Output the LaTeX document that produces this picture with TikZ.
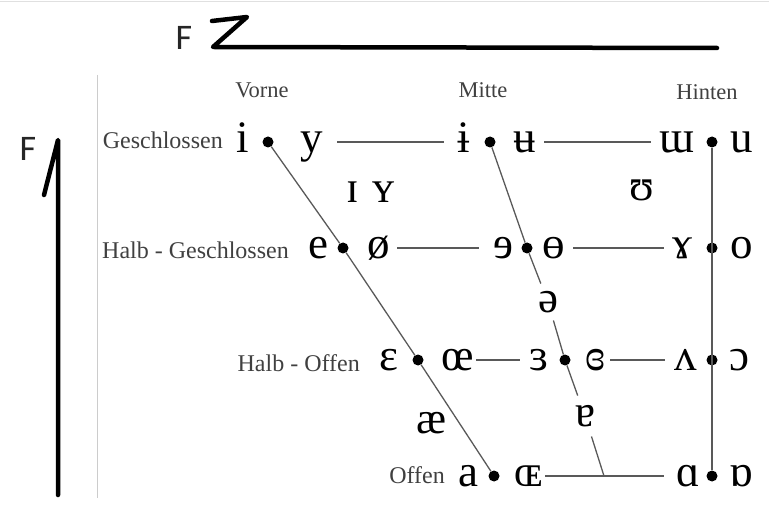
\documentclass[tikz,border=0pt]{standalone}
\usepackage{fontspec}
\setmainfont{Liberation Serif}
\newfontfamily\axisfont{Carlito}
\usetikzlibrary{positioning}
\tikzset{
  vowel/.style={font=\fontsize{45}{45}\selectfont, text height=20.5pt, text depth=0pt, inner sep=2pt},
  gapvowel/.style={vowel, inner xsep=6pt, inner ysep=8pt},
  vdot/.style={circle, fill=black, inner sep=0pt, minimum size=11pt},
  rowlabel/.style={font=\fontsize{24}{24}\selectfont, text=black!75, anchor=east, inner sep=0pt},
  collabel/.style={font=\fontsize{22.5}{22.5}\selectfont, text=black!75, inner sep=0pt},
  chartline/.style={line width=1.3pt, black!65},
  axisline/.style={line width=4.5pt, line cap=round, line join=round},
  axislabel/.style={font=\axisfont\fontsize{36}{36}\selectfont, text=black!85, inner sep=0pt}
}

\begin{document}
\begin{tikzpicture}[x=1pt, y=-1pt]
  \useasboundingbox (0,0) rectangle (769,505);
  \draw[black!12, line width=1pt] (0,2) -- (769,2);
  \draw[black!20, line width=1pt] (97,75) -- (97,498);

  % axes
  \node[axislabel] (ftop) at (184,38) {F};
  \coordinate (ztop1) at (212,21);
  \coordinate (ztop2) at (247,17);
  \coordinate (zstart) at (213,47);
  \coordinate (zend) at (717,48);
  \draw[axisline] (ztop1) -- (ztop2) -- (zstart) -- (zend);
  \node[axislabel] (fleft) at (28,149) {F};
  \coordinate (vtop) at (58,140);
  \coordinate (vhook) at (44,195);
  \coordinate (vbottom) at (58,495);
  \draw[axisline] (vhook) -- (vtop) -- (vbottom);

  % column and row labels
  \node[collabel] (vorne) at (262,90) {Vorne};
  \node[collabel] (mitte) at (483,90) {Mitte};
  \node[collabel] (hinten) at (707,92) {Hinten};
  \node[rowlabel] (geschl) at (223,140) {Geschlossen};
  \node[rowlabel] (halbgeschl) at (289,250) {Halb - Geschlossen};
  \node[rowlabel] (halboffen) at (360,363) {Halb - Offen};
  \node[rowlabel] (offen) at (445,475) {Offen};

  % dots
  \node[vdot] (d1f) at (268,142) {};
  \node[vdot] (d2f) at (343,248) {};
  \node[vdot] (d3f) at (418,360) {};
  \node[vdot] (d4f) at (494,476) {};
  \node[vdot] (d1c) at (490,142) {};
  \node[vdot] (d2c) at (527,248) {};
  \node[vdot] (d3c) at (565,360) {};
  \coordinate (d4c) at (604,476);
  \node[vdot] (d1b) at (712,142) {};
  \node[vdot] (d2b) at (712,248) {};
  \node[vdot] (d3b) at (712,360) {};
  \node[vdot] (d4b) at (712,476) {};

  % vowels
  \node[vowel] (i) at (243,142) {i};
  \node[vowel] (y) at (312,142) {y};
  \node[vowel] (ibar) at (464,142) {ɨ};
  \node[vowel] (ubar) at (525,142) {ʉ};
  \node[vowel] (turnm) at (677,142) {ɯ};
  \node[vowel] (u) at (742,142) {u};
  \node[vowel] (e) at (318,248) {e};
  \node[vowel] (oslash) at (379,248) {ø};
  \node[vowel] (reve) at (503,248) {ɘ};
  \node[vowel] (obar) at (554,248) {ɵ};
  \node[vowel] (ramshorn) at (682,248) {ɤ};
  \node[vowel] (o) at (742,248) {o};
  \node[vowel] (epsilon) at (389,360) {ɛ};
  \node[vowel] (oe) at (458,360) {œ};
  \node[vowel] (revepsilon) at (539,360) {ɜ};
  \node[vowel] (closedrevepsilon) at (595,360) {ɞ};
  \node[vowel] (turnv) at (686,360) {ʌ};
  \node[vowel] (openo) at (739,360) {ɔ};
  \node[vowel] (a) at (468,476) {a};
  \node[vowel] (smalloe) at (529,476) {ɶ};
  \node[vowel] (scripta) at (688,476) {ɑ};
  \node[vowel] (turnscripta) at (741,476) {ɒ};
  \node[vowel] (smallcapi) at (353,192) {ɪ};
  \node[vowel] (smallcapy) at (384,192) {ʏ};
  \node[vowel] (upsilon) at (642,190) {ʊ};
  \node[vowel] (ash) at (432,423) {æ};
  \node[gapvowel] (schwa) at (548,302) {ə};
  \node[gapvowel, inner ysep=10pt] (turna) at (585,416) {ɐ};

  % lines
  \draw[chartline] (d1f) -- (d2f) -- (d3f) -- (d4f);
  \draw[chartline] (d1c) -- (d2c) -- (schwa) -- (d3c) -- (turna) -- (d4c);
  \draw[chartline] (d1b) -- (d4b);
  \draw[chartline, shorten <=12pt, shorten >=12pt] (y) -- (ibar);
  \draw[chartline, shorten <=6pt, shorten >=6pt] (ubar) -- (turnm);
  \draw[chartline, shorten <=5pt, shorten >=12pt] (oslash) -- (reve);
  \draw[chartline, shorten <=6pt, shorten >=6pt] (obar) -- (ramshorn);
  \draw[chartline, shorten <=0pt, shorten >=7pt] (oe) -- (revepsilon);
  \draw[chartline, shorten <=3pt, shorten >=8pt] (closedrevepsilon) -- (turnv);
  \draw[chartline, shorten <=0pt, shorten >=10pt] (smalloe) -- (scripta);
\end{tikzpicture}
\end{document}
